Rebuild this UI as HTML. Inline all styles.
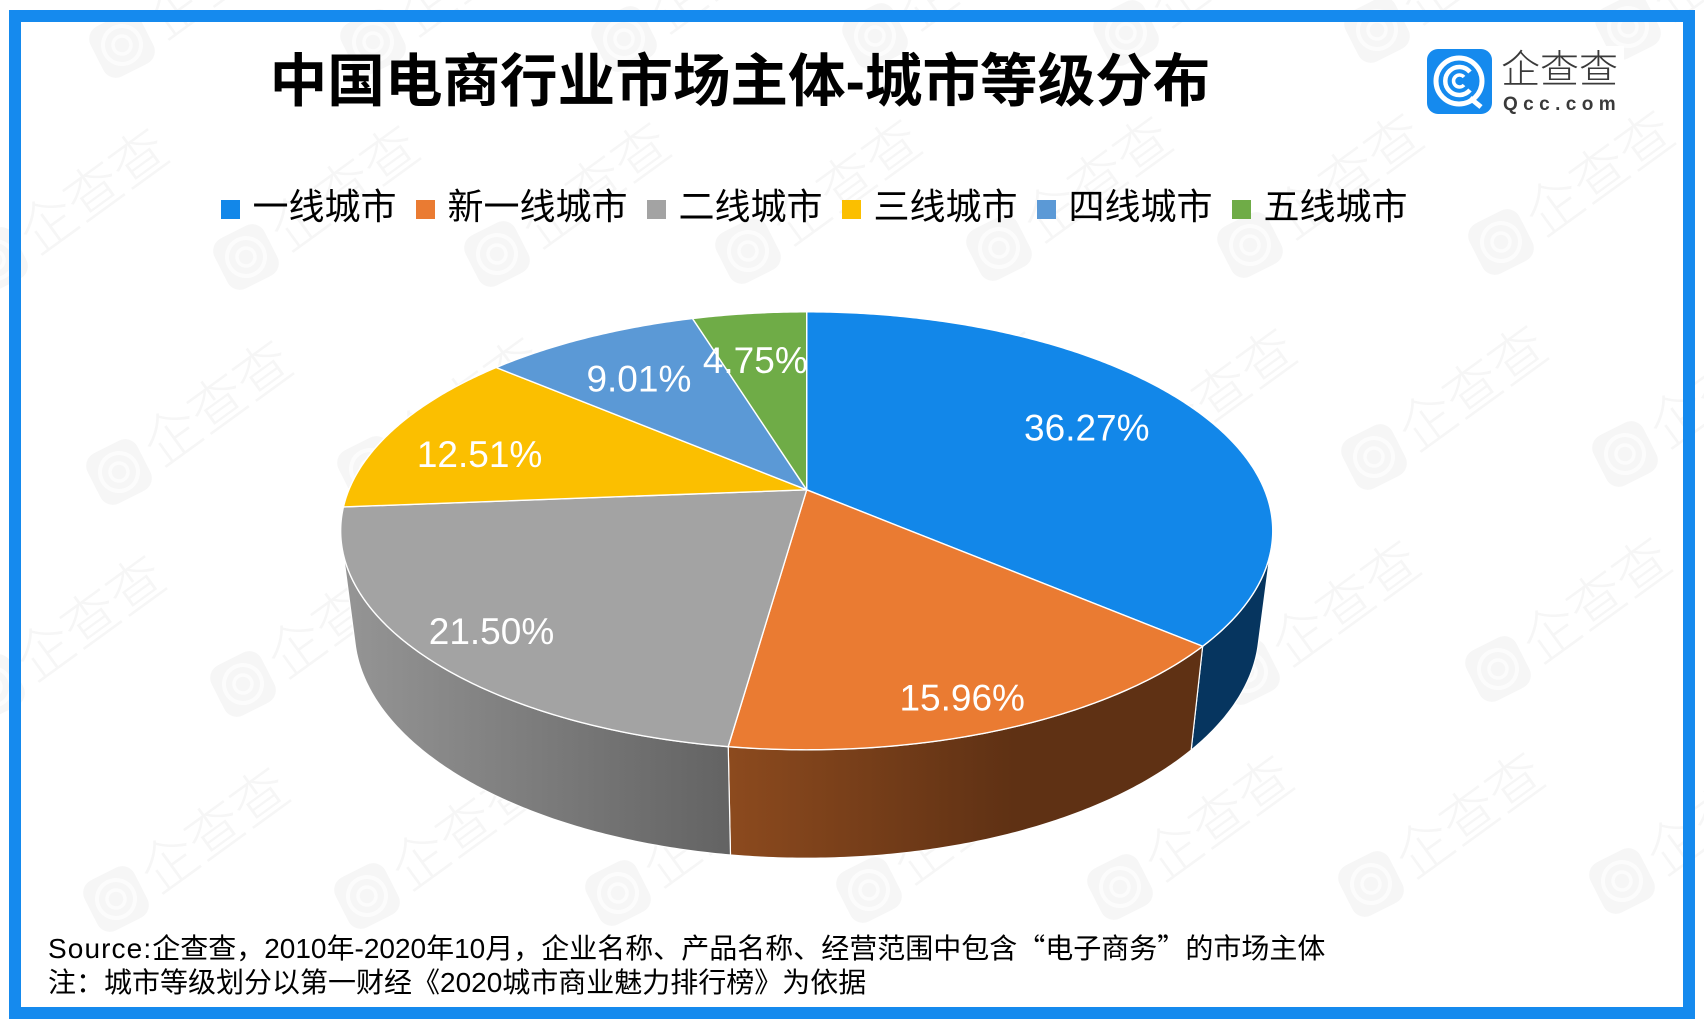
<!DOCTYPE html>
<html lang="zh-CN">
<head>
<meta charset="utf-8">
<title>中国电商行业市场主体-城市等级分布</title>
<style>
html,body{margin:0;padding:0;background:#fff;}
body{width:1704px;height:1028px;overflow:hidden;}
svg{display:block;overflow:hidden;}
text{font-family:"Liberation Sans","Noto Sans CJK SC",sans-serif;}
.cjk-quote{font-family:"Noto Sans CJK SC",sans-serif;}
</style>
</head>
<body>
<svg id="chart" xmlns="http://www.w3.org/2000/svg" width="1704" height="1028" viewBox="0 0 1704 1028">
  <rect x="0" y="0" width="1704" height="1028" fill="#ffffff"/>
  <g id="watermarks"></g>
  <rect x="15" y="16" width="1674" height="997" fill="none" stroke="#158aee" stroke-width="12"/>
  <text x="740" y="101" text-anchor="middle" font-size="57.6" font-weight="700" fill="#000000">中国电商行业市场主体-城市等级分布</text>

  <g>
    <rect x="1420" y="46" width="204" height="70" fill="#ffffff"/>
    <rect x="1427" y="49" width="65" height="65" rx="11" fill="#158aee"/>
    <circle cx="1459" cy="81" r="23" fill="none" stroke="#ffffff" stroke-width="5"/>
    <path d="M1470 72 A14 14 0 1 0 1470 90" fill="none" stroke="#ffffff" stroke-width="4.5"/>
    <path d="M1464 77 A6 6 0 1 0 1464 85" fill="none" stroke="#ffffff" stroke-width="3.5"/>
    <path d="M1470 98 L1481 107" fill="none" stroke="#ffffff" stroke-width="5"/>
    <text x="1501" y="83" font-size="39" font-weight="300" fill="#3a3a3a">企查查</text>
    <text x="1503" y="110" font-size="19" font-weight="700" letter-spacing="5.4" fill="#3a3a3a">Qcc.com</text>
  </g>

  <g id="legend"></g>
  <g id="pie"></g>

  <text x="48" y="958" font-size="28" fill="#000000"><tspan letter-spacing="1.1">Source:</tspan>企查查，2010年-2020年10月，企业名称、产品名称、经营范围中包含<tspan class="cjk-quote">“</tspan>电子商务<tspan class="cjk-quote">”</tspan>的市场主体</text>
  <text x="48" y="992" font-size="28" fill="#000000">注：城市等级划分以第一财经《2020城市商业魅力排行榜》为依据</text>
</svg>

<script>
// ---- chart data ----
var categories = ['一线城市', '新一线城市', '二线城市', '三线城市', '四线城市', '五线城市'];
var shares = [36.27, 15.96, 21.50, 12.51, 9.01, 4.75];

// ---- series styling ----
var topColors = ['#1287e9', '#ea7b32', '#a3a3a3', '#fbbf00', '#5b99d6', '#6fac47'];
var sideFrom = ['#06355f', '#8c4a1e', '#959595', '#7d5f00', '#2c4c6b', '#375623'];
var sideTo = ['#06355f', '#5f3114', '#636363', '#7d5f00', '#2c4c6b', '#375623'];
var sideStop = [1, 0.6, 1, 1, 1, 1];
// hand tuning of data-label placement relative to each slice's anchor
var labelNudgeX = [-33, 5, -18, 6, 11, -4];
var labelNudgeY = [4, 24, 12, 14, 14, 16];

// ---- perspective projection of the pie's disc ----
var SVG_NS = 'http://www.w3.org/2000/svg';
var CX = 806.7, TOP_Y = 489.8, BOTTOM_Y = 586.6;
var TOP_A = 457.8, TOP_B = 211.3, BOTTOM_A = 444.5, BOTTOM_B = 220.8;
var K = 0.1872;
var VIS_TOP_0 = 106.7, VIS_TOP_1 = 253.3, VIS_BOTTOM_0 = 104.6, VIS_BOTTOM_1 = 255.4;
var LABEL_R = 0.8;

function project(deg, r, cy, a, b) {
  var t = deg * Math.PI / 180;
  var u = r * Math.sin(t);
  var v = -r * Math.cos(t);
  var w = 1 / (1 - K * v);
  return [CX + a * u * w, cy + b * v * w];
}
function topPoint(deg, r) { return project(deg, r, TOP_Y, TOP_A, TOP_B); }
function bottomPoint(deg) { return project(deg, 1, BOTTOM_Y, BOTTOM_A, BOTTOM_B); }
function arc(fn, d0, d1) {
  var pts = [];
  var n = Math.max(2, Math.ceil(Math.abs(d1 - d0) * 2));
  for (var i = 0; i <= n; i++) pts.push(fn(d0 + (d1 - d0) * i / n, 1));
  return pts;
}
function toPath(pts) {
  return 'M' + pts.map(function (p) { return p[0].toFixed(2) + ' ' + p[1].toFixed(2); }).join('L') + 'Z';
}
function make(tag, parent, attrs) {
  var el = document.createElementNS(SVG_NS, tag);
  for (var k in attrs) el.setAttribute(k, attrs[k]);
  parent.appendChild(el);
  return el;
}

// ---- pie ----
var pie = document.getElementById('pie');
var defs = make('defs', pie, {});
var sideLayer = make('g', pie, {});


var topLayer = make('g', pie, {});


var labelLayer = make('g', pie, {});



var total = shares.reduce(function (s, v) { return s + v; }, 0);
var cumulative = 0;
shares.forEach(function (value, i) {
  var start = cumulative / total * 360;
  cumulative += value;
  var end = cumulative / total * 360;

  // extruded side wall: only the near half of the rim is visible
  var a = Math.max(start, VIS_TOP_0), b = Math.min(end, VIS_TOP_1);
  if (b > a) {
    var ba = start <= VIS_TOP_0 ? VIS_BOTTOM_0 : a;
    var bb = end >= VIS_TOP_1 ? VIS_BOTTOM_1 : b;
    var rim = arc(topPoint, a, b);
    var under = arc(bottomPoint, bb, ba);
    var leftX = Math.min(rim[0][0], rim[rim.length - 1][0], under[0][0], under[under.length - 1][0]);
    var rightX = Math.max(rim[0][0], rim[rim.length - 1][0], under[0][0], under[under.length - 1][0]);
    var grad = make('linearGradient', defs, {
      id: 'side-grad-' + i, gradientUnits: 'userSpaceOnUse',
      x1: leftX, y1: 0, x2: rightX, y2: 0
    });
    make('stop', grad, { offset: 0, 'stop-color': sideFrom[i] });
    make('stop', grad, { offset: sideStop[i], 'stop-color': sideTo[i] });
    var side = make('path', sideLayer, {
      d: toPath(rim.concat(under)), fill: 'url(#side-grad-' + i + ')',
      stroke: '#ffffff', 'stroke-width': 1.2, 'stroke-linejoin': 'round'
    });
    
    
  }

  // top face
  var face = make('path', topLayer, {
    d: toPath([[CX, TOP_Y]].concat(arc(topPoint, start, end))),
    fill: topColors[i], stroke: '#ffffff', 'stroke-width': 1.4, 'stroke-linejoin': 'round'
  });
  
  

  // value label
  var mid = (start + end) / 2;
  var anchor = topPoint(mid, LABEL_R);
  var label = make('text', labelLayer, {
    x: (anchor[0] + labelNudgeX[i]).toFixed(1),
    y: (anchor[1] + labelNudgeY[i] + 13).toFixed(1),
    'text-anchor': 'middle', 'font-size': 37, fill: '#ffffff'
  });
  
  
  label.textContent = value.toFixed(2) + '%';
});

// ---- legend ----
var legend = document.getElementById('legend');
var legendX = 221;
categories.forEach(function (name, i) {
  var entry = make('g', legend, {});
  
  
  var swatch = make('rect', entry, { x: legendX, y: 200, width: 19, height: 19, fill: topColors[i] });
  
  
  var text = make('text', entry, { x: legendX + 31.5, y: 219, 'font-size': 36, fill: '#000000' });
  
  
  text.textContent = name;
  legendX += 19 + 13 + name.length * 36 + 19;
});

// ---- repeating background watermark ----
var wm = document.getElementById('watermarks');
var WM_ROWS = [-1, 0, 1, 2, 3];
var WM_FILL = '#f6f6f6';
WM_ROWS.forEach(function (row) {
  for (var col = -2; col <= 9; col++) {
    var x = 246 + col * 251 - row * 127;
    var y = 257 - col * 3 + row * 215;
    if (x < -120 || x > 1680) continue;
    var g = make('g', wm, { transform: 'translate(' + x + ' ' + y + ')', fill: WM_FILL });
    
    
    var mark = make('g', g, { transform: 'rotate(-27)' });
    
    
    var tile = make('rect', mark, { x: -28, y: -28, width: 56, height: 56, rx: 14 });
    
    
    var ring = make('circle', mark, { cx: 0, cy: 0, r: 19, fill: 'none', stroke: '#fcfcfc', 'stroke-width': 4 });
    
    
    var ring2 = make('circle', mark, { cx: 0, cy: 0, r: 9, fill: 'none', stroke: '#fcfcfc', 'stroke-width': 3.5 });
    
    
    var word = make('text', g, { transform: 'rotate(-36)', x: 36, y: 22, 'font-size': 56, 'font-weight': 300 });
    
    
    word.textContent = '企查查';
  }
});
</script>
</body>
</html>
